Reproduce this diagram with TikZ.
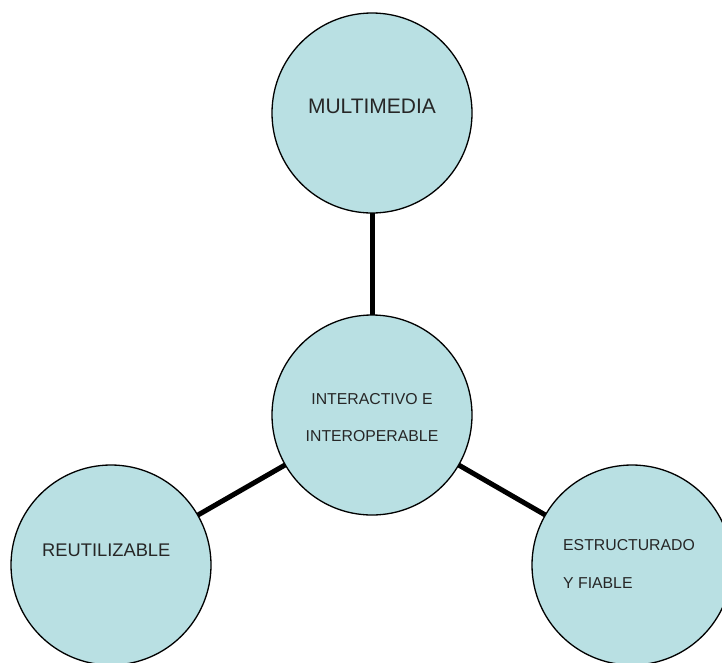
\documentclass[tikz,border=0pt]{standalone}
\usepackage{fontspec}
\setmainfont{Liberation Sans}
\definecolor{bubble}{HTML}{B9E0E3}
\begin{document}
\begin{tikzpicture}[x=1pt,y=-1pt,
  bub/.style={circle,draw=black,line width=1.3pt,fill=bubble,minimum size=200pt,inner sep=0pt,outer sep=0pt},
  link/.style={line width=5pt},
  lbl/.style={inner sep=0pt,anchor=base,text=black!85}]
\useasboundingbox (0,0) rectangle (722,662);
\node[bub] (top) at (372,113) {};
\node[bub] (mid) at (372,415) {};
\node[bub] (left) at (111,565) {};
\node[bub] (right) at (632,565) {};
\draw[link] (mid) -- (top);
\draw[link] (mid) -- (left);
\draw[link] (mid) -- (right);
\node[lbl,font=\fontsize{21}{25}\selectfont] (t1) at (372,113) {MULTIMEDIA};
\node[lbl,font=\fontsize{15.8}{19}\selectfont] (t2) at (372,404) {INTERACTIVO E};
\node[lbl,font=\fontsize{15.8}{19}\selectfont] (t3) at (372,441) {INTEROPERABLE};
\node[lbl,anchor=base west,font=\fontsize{18.3}{22}\selectfont] (t4) at (42,556) {REUTILIZABLE};
\node[lbl,anchor=base west,font=\fontsize{15.8}{19}\selectfont] (t5) at (563,550) {ESTRUCTURADO};
\node[lbl,anchor=base west,font=\fontsize{15.8}{19}\selectfont] (t6) at (563,588) {Y FIABLE};
\end{tikzpicture}
\end{document}
